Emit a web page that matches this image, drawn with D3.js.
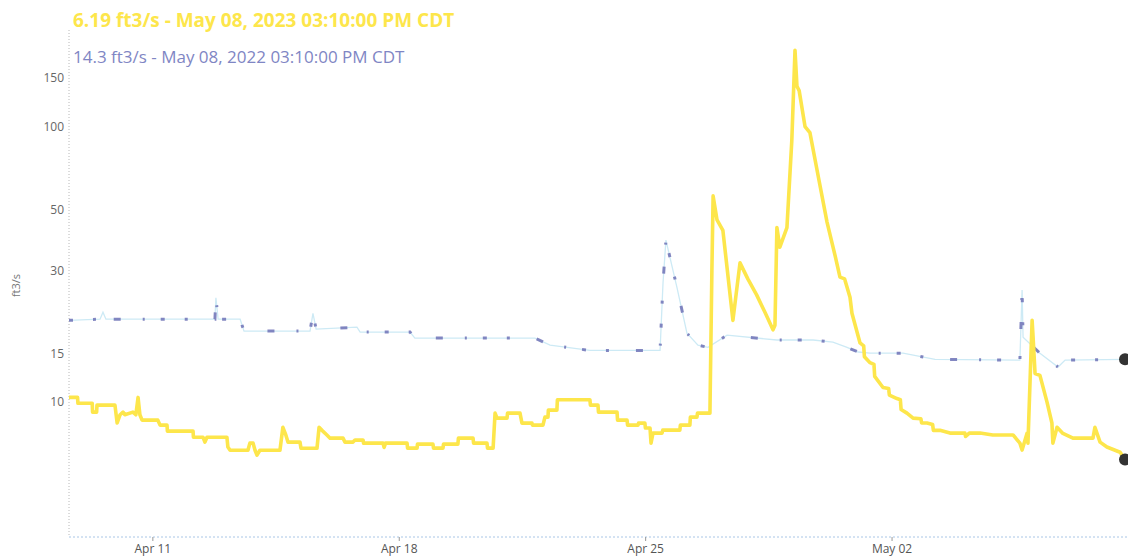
<!DOCTYPE html>
<html>
<head>
<meta charset="utf-8">
<script src="https://cdn.jsdelivr.net/npm/d3@7"></script>
<style>
  body { margin: 0; background: #fff; font-family: "Open Sans", sans-serif; }
</style>
</head>
<body>
<div id="chart"></div>
<script>
// Streamflow, ft3/s. Both years are drawn on the same month-day axis.
const flow2023 = [
  ["04-08 15:10", 10.4], ["04-08 21:00", 10.4], ["04-08 21:15", 9.9], ["04-09 07:00", 9.9],
  ["04-09 07:15", 9.2], ["04-09 10:00", 9.2], ["04-09 10:15", 9.75], ["04-09 22:30", 9.75],
  ["04-10 00:00", 8.4], ["04-10 02:00", 9.0], ["04-10 04:00", 9.2], ["04-10 05:15", 9.0],
  ["04-10 10:45", 9.2], ["04-10 12:45", 9.0], ["04-10 14:15", 10.4], ["04-10 15:30", 9.0],
  ["04-10 17:00", 8.6], ["04-11 03:45", 8.6], ["04-11 05:15", 8.25], ["04-11 10:00", 8.25],
  ["04-11 10:15", 7.85], ["04-12 03:45", 7.85], ["04-12 04:00", 7.46], ["04-12 10:30", 7.46],
  ["04-12 11:50", 7.16], ["04-12 13:15", 7.46], ["04-13 02:50", 7.46], ["04-13 03:30", 6.87],
  ["04-13 05:00", 6.69], ["04-13 17:10", 6.69], ["04-13 18:30", 7.1], ["04-13 20:40", 7.1],
  ["04-13 22:00", 6.69], ["04-13 23:20", 6.42], ["04-14 01:20", 6.69], ["04-14 15:00", 6.69],
  ["04-14 17:00", 8.1], ["04-14 19:00", 7.6], ["04-14 20:30", 7.16], ["04-15 04:40", 7.16],
  ["04-15 05:20", 6.8], ["04-15 16:15", 6.8], ["04-15 17:40", 8.1], ["04-15 19:40", 7.9],
  ["04-15 23:00", 7.6], ["04-16 01:10", 7.4], ["04-16 10:00", 7.4], ["04-16 11:20", 7.16],
  ["04-16 16:50", 7.16], ["04-16 18:10", 7.28], ["04-16 23:40", 7.28], ["04-17 00:00", 7.1],
  ["04-17 13:15", 7.1], ["04-17 14:00", 6.85], ["04-17 15:00", 7.1], ["04-18 05:40", 7.1],
  ["04-18 06:00", 6.81], ["04-18 12:30", 6.81], ["04-18 12:45", 7.04], ["04-18 23:20", 7.04],
  ["04-18 23:40", 6.81], ["04-19 06:10", 6.81], ["04-19 06:30", 7.04], ["04-19 16:20", 7.04],
  ["04-19 16:40", 7.4], ["04-20 02:40", 7.4], ["04-20 03:00", 7.1], ["04-20 12:10", 7.1],
  ["04-20 12:30", 6.81], ["04-20 16:20", 6.81], ["04-20 17:40", 9.12], ["04-20 19:00", 8.75],
  ["04-21 01:50", 8.75], ["04-21 02:10", 9.12], ["04-21 10:40", 9.12], ["04-21 12:00", 8.39],
  ["04-21 18:50", 8.39], ["04-21 19:10", 8.25], ["04-22 02:20", 8.25], ["04-22 03:40", 8.82],
  ["04-22 05:45", 8.82], ["04-22 06:00", 9.35], ["04-22 11:50", 9.35], ["04-22 12:10", 10.2],
  ["04-23 10:20", 10.2], ["04-23 10:40", 9.75], ["04-23 15:50", 9.75], ["04-23 16:10", 9.2],
  ["04-24 04:50", 9.2], ["04-24 05:10", 8.6], ["04-24 11:40", 8.6], ["04-24 12:00", 8.25],
  ["04-24 19:10", 8.25], ["04-24 19:30", 8.39], ["04-24 23:50", 8.39], ["04-25 00:10", 8.05],
  ["04-25 03:20", 8.05], ["04-25 04:00", 7.1], ["04-25 05:20", 7.72], ["04-25 11:30", 7.72],
  ["04-25 12:00", 7.91], ["04-25 23:40", 7.91], ["04-26 00:00", 8.25], ["04-26 06:30", 8.25],
  ["04-26 06:50", 8.82], ["04-26 11:20", 8.82], ["04-26 11:40", 9.12], ["04-26 20:10", 9.12],
  ["04-26 21:30", 30.0], ["04-26 22:20", 56.0], ["04-27 01:00", 45.8], ["04-27 05:00", 42.0],
  ["04-27 11:50", 19.8], ["04-27 16:40", 32.0], ["04-27 22:00", 28.0], ["04-28 04:00", 24.5],
  ["04-28 10:00", 21.0], ["04-28 15:10", 18.3],
  ["04-28 16:30", 19.0], ["04-28 17:50", 43.0], ["04-28 19:50", 36.5], ["04-29 00:40", 43.0],
  ["04-29 04:00", 89.0], ["04-29 06:10", 189.0], ["04-29 07:30", 140.0], ["04-29 09:00", 135.0],
  ["04-29 13:00", 100.0], ["04-29 16:20", 95.0], ["04-29 22:00", 66.0], ["04-30 04:00", 45.0],
  ["04-30 09:30", 34.0], ["04-30 12:50", 28.4], ["04-30 16:00", 28.0], ["04-30 19:40", 24.0],
  ["04-30 21:00", 21.0], ["05-01 02:30", 16.4], ["05-01 05:00", 16.0], ["05-01 05:30", 14.6],
  ["05-01 09:20", 13.9], ["05-01 12:00", 13.7], ["05-01 12:30", 12.4], ["05-01 18:10", 11.3],
  ["05-01 22:00", 11.2], ["05-01 22:30", 10.6], ["05-02 03:40", 10.3], ["05-02 06:00", 10.2],
  ["05-02 06:30", 9.4], ["05-02 10:30", 9.12], ["05-02 14:40", 8.75], ["05-02 20:00", 8.7],
  ["05-02 20:30", 8.4], ["05-03 00:10", 8.4], ["05-03 04:00", 8.3], ["05-03 04:30", 7.9],
  ["05-03 09:00", 7.9], ["05-03 15:50", 7.72], ["05-04 02:00", 7.72], ["05-04 02:30", 7.5],
  ["05-04 05:00", 7.72], ["05-04 12:20", 7.72], ["05-04 21:00", 7.6], ["05-05 02:00", 7.6],
  ["05-05 10:50", 7.6], ["05-05 15:30", 7.1], ["05-05 17:00", 6.7],
  ["05-05 20:20", 7.7], ["05-05 21:00", 7.1], ["05-05 23:50", 19.8], ["05-06 00:30", 17.2],
  ["05-06 01:50", 12.7], ["05-06 05:10", 12.5], ["05-06 10:00", 10.0], ["05-06 13:20", 8.4],
  ["05-06 14:00", 7.1], ["05-06 16:50", 8.1], ["05-06 20:50", 7.7], ["05-07 03:40", 7.4],
  ["05-07 17:20", 7.4], ["05-07 18:40", 8.1], ["05-07 22:10", 7.16], ["05-08 02:50", 6.87],
  ["05-08 11:50", 6.58], ["05-08 15:10", 6.19]
];

const flow2022 = [
  ["04-08 15:10", 19.8], ["04-09 12:20", 20.0], ["04-09 14:20", 21.2], ["04-09 16:20", 20.0],
  ["04-12 18:40", 20.0], ["04-12 19:20", 23.9], ["04-12 20:50", 20.0], ["04-13 11:50", 20.0],
  ["04-13 13:10", 19.0], ["04-13 14:30", 18.1], ["04-15 11:30", 18.1], ["04-15 13:30", 21.0],
  ["04-15 15:40", 18.4], ["04-16 19:30", 18.7], ["04-16 21:40", 17.95], ["04-18 07:40", 17.95],
  ["04-18 11:00", 17.07], ["04-21 20:50", 17.07], ["04-22 07:10", 16.1], ["04-23 10:20", 15.4],
  ["04-25 10:10", 15.4], ["04-25 12:10", 27.0], ["04-25 14:10", 38.7], ["04-25 21:40", 26.1],
  ["04-26 04:30", 17.8], ["04-26 12:00", 16.1], ["04-26 18:50", 15.8], ["04-27 07:50", 17.5],
  ["04-28 17:50", 16.8], ["04-29 18:30", 16.8], ["04-30 08:00", 16.5], ["04-30 17:40", 15.8],
  ["05-01 01:10", 15.2], ["05-01 09:20", 15.05], ["05-02 07:50", 15.05], ["05-03 05:40", 14.3],
  ["05-05 15:30", 14.2], ["05-05 17:00", 25.5], ["05-05 17:40", 17.2], ["05-06 05:10", 15.05],
  ["05-06 17:30", 13.4], ["05-06 22:20", 14.2], ["05-08 15:10", 14.3]
];

const yTicks = [10, 15, 30, 50, 100, 150];
const xTicks = ["04-11 00:00", "04-18 00:00", "04-25 00:00", "05-02 00:00"];
const xDomain = ["04-08 15:10", "05-08 15:10"];
const yDomain = [3.24, 224];
const label2023 = "6.19 ft3/s - May 08, 2023 03:10:00 PM CDT";
const label2022 = "14.3 ft3/s - May 08, 2022 03:10:00 PM CDT";
const yTitle = "ft3/s";

const parse = d3.timeParse("%Y-%m-%d %H:%M");
const toDate = s => parse("2023-" + s);

function render() {
  const width = 1128;
  const height = 558;
  const plot = { left: 69, right: 1125, top: 30, bottom: 537 };

  const svg = d3.select("#chart")
    .append("svg")
    .attr("width", width)
    .attr("height", height)
    .style("display", "block");

  const x = d3.scaleTime()
    .domain(xDomain.map(toDate))
    .range([plot.left, plot.right]);

  const y = d3.scaleLog()
    .domain(yDomain)
    .range([plot.bottom, plot.top]);

  // dotted axis lines
  svg.append("line")
    .attr("x1", plot.left).attr("x2", plot.left)
    .attr("y1", plot.top).attr("y2", plot.bottom)
    .attr("stroke", "#b8b8b8")
    .attr("stroke-dasharray", "1,2");
  svg.append("line")
    .attr("x1", plot.left).attr("x2", width)
    .attr("y1", plot.bottom).attr("y2", plot.bottom)
    .attr("stroke", "#a9c6e6")
    .attr("stroke-dasharray", "2,2");

  const yAxis = svg.append("g")
    .attr("transform", `translate(${plot.left},0)`)
    .call(d3.axisLeft(y).tickValues(yTicks).tickFormat(d3.format("d")).tickSize(0).tickPadding(5));
  yAxis.select(".domain").remove();
  yAxis.selectAll("text")
    .attr("fill", "#666")
    .style("font-family", "Open Sans, sans-serif")
    .style("font-size", "12px");

  const xAxis = svg.append("g")
    .attr("transform", `translate(0,${plot.bottom})`)
    .call(d3.axisBottom(x).tickValues(xTicks.map(toDate)).tickFormat(d3.timeFormat("%b %d")).tickSize(4).tickPadding(3));
  xAxis.select(".domain").remove();
  xAxis.selectAll("line").attr("stroke", "#999");
  xAxis.selectAll("text")
    .attr("fill", "#555")
    .style("font-family", "Open Sans, sans-serif")
    .style("font-size", "12px");

  svg.append("text")
    .attr("transform", `translate(20,${(plot.top + plot.bottom) / 2 + 2}) rotate(-90)`)
    .attr("text-anchor", "middle")
    .attr("fill", "#777")
    .style("font-size", "11px")
    .text(yTitle);

  const line = d3.line()
    .x(d => x(toDate(d[0])))
    .y(d => y(d[1]));

  // 2022: faint line with scattered darker dashes
  svg.append("path")
    .datum(flow2022)
    .attr("d", line)
    .attr("fill", "none")
    .attr("stroke", "#cdeaf5")
    .attr("stroke-width", 1.3);
  svg.append("path")
    .datum(flow2022)
    .attr("d", line)
    .attr("fill", "none")
    .attr("stroke", "#6e72b6")
    .attr("stroke-width", 3)
    .attr("stroke-dasharray", "4,20,3,27,7,22,2,16")
    .attr("opacity", 0.85);

  // 2023
  svg.append("path")
    .datum(flow2023)
    .attr("d", line)
    .attr("fill", "none")
    .attr("stroke", "#fde64b")
    .attr("stroke-width", 3.6)
    .attr("stroke-linejoin", "round");

  // latest values
  const ends = [flow2022[flow2022.length - 1], flow2023[flow2023.length - 1]];
  svg.selectAll("circle.end")
    .data(ends)
    .join("circle")
    .attr("class", "end")
    .attr("cx", d => x(toDate(d[0])))
    .attr("cy", d => y(d[1]))
    .attr("r", 6)
    .attr("fill", "#333");

  svg.append("text")
    .attr("x", 73).attr("y", 27)
    .attr("fill", "#fde64b")
    .style("font-size", "19px")
    .style("font-weight", "bold")
    .text(label2023);

  svg.append("text")
    .attr("x", 73).attr("y", 63)
    .attr("fill", "#7f86c4")
    .style("font-size", "17px")
    .text(label2022);
}

render();
</script>
</body>
</html>
